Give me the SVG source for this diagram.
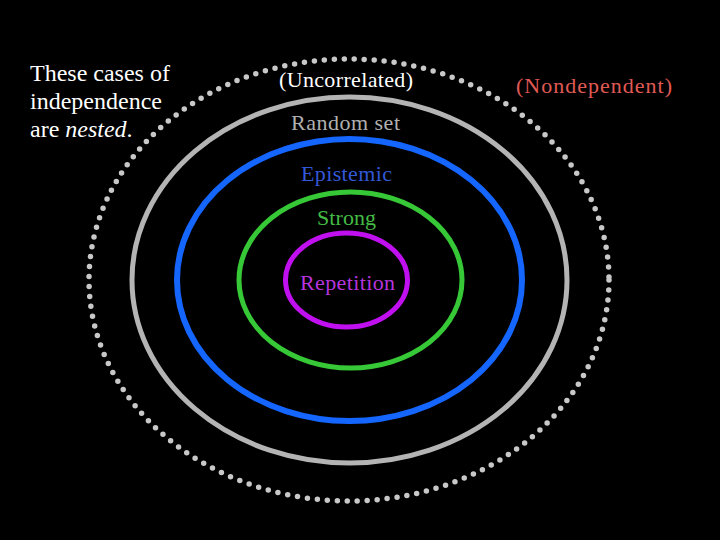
<svg xmlns="http://www.w3.org/2000/svg" width="720" height="540" viewBox="0 0 720 540">
<style>
.ring{fill:none}
.t{font-family:"Liberation Serif","Times New Roman",serif;font-size:22px}
.note{font-family:"Liberation Serif","Times New Roman",serif;font-size:24px;fill:#ffffff}
</style>
<rect x="0" y="0" width="720" height="540" fill="#000000"/>
<g id="nondependent">
<ellipse class="ring" cx="349" cy="280" rx="260" ry="221" stroke="#c8c8c8" stroke-width="5.5" stroke-linecap="round" stroke-dasharray="0 10"/>
<text class="t" x="516" y="93" fill="#e05a55" textLength="156" lengthAdjust="spacing">(Nondependent)</text>
<text class="t" x="279" y="87" fill="#ffffff" textLength="134" lengthAdjust="spacing">(Uncorrelated)</text>
</g>
<g id="random-set">
<ellipse class="ring" cx="349.5" cy="280" rx="217.5" ry="183" stroke="#b4b4b4" stroke-width="5"/>
<text class="t" x="291" y="129.5" fill="#b0b0b0" textLength="109" lengthAdjust="spacing">Random set</text>
</g>
<g id="epistemic">
<ellipse class="ring" cx="349.5" cy="280" rx="172.5" ry="141" stroke="#1466ff" stroke-width="6"/>
<text class="t" x="301" y="181" fill="#3358d8" textLength="91" lengthAdjust="spacing">Epistemic</text>
</g>
<g id="strong">
<ellipse class="ring" cx="350.5" cy="280" rx="111.5" ry="88" stroke="#36c836" stroke-width="5"/>
<text class="t" x="317" y="225" fill="#44bb44" textLength="59" lengthAdjust="spacing">Strong</text>
</g>
<g id="repetition">
<ellipse class="ring" cx="346.5" cy="280" rx="61" ry="47" stroke="#c010f0" stroke-width="5"/>
<text class="t" x="300" y="289.5" fill="#b535dd" textLength="95" lengthAdjust="spacing">Repetition</text>
</g>
<g id="caption">
<text class="note" x="30" y="81" font-family="Liberation Serif, serif">These cases of</text>
<text class="note" x="30" y="109" font-family="Liberation Serif, serif">independence</text>
<text class="note" x="30" y="137" font-family="Liberation Serif, serif">are <tspan font-style="italic">nested</tspan>.</text>
</g>
<g id="connectors"></g>
</svg>
